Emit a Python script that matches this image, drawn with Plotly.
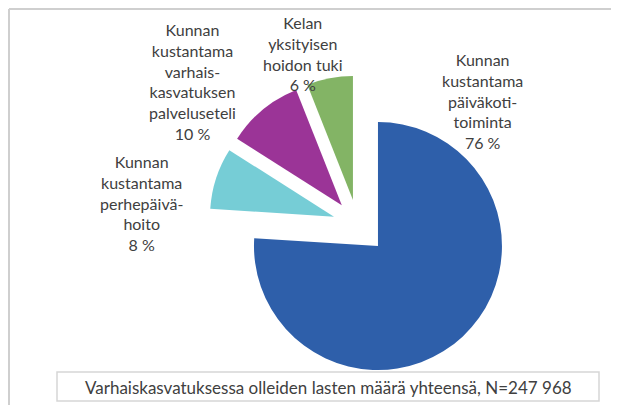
import plotly.graph_objects as go

# ---- data ----
categories = [
    "Kunnan<br>kustantama<br>päiväkoti-<br>toiminta",
    "Kunnan<br>kustantama<br>perhepäivä-<br>hoito",
    "Kunnan<br>kustantama<br>varhais-<br>kasvatuksen<br>palveluseteli",
    "Kelan<br>yksityisen<br>hoidon tuki",
]
shares = [76, 8, 10, 6]
colors = ["#2E5FAA", "#76CDD6", "#9B3497", "#83B465"]
pulls = [0.24, 0.2, 0.2, 0.2]
note = "Varhaiskasvatuksessa olleiden lasten määrä yhteensä, N=247\u00a0968"

# The page body has an 8px default margin, so the figure is laid out
# 8px smaller and every position is given relative to that offset.
OFF = 8
W, H = 619 - OFF, 405 - OFF

# label anchor positions (reference px from top-left), layout only
label_pos = [(482, 101), (141, 203), (192, 81), (303, 54)]

FONT = "Lato"
TXT = "#404040"


def px(x):
    return (x - OFF) / W


def py(y):
    return 1 - (y - OFF) / H


fig = go.Figure()
fig.add_trace(go.Pie(
    labels=[c.replace("<br>", " ") for c in categories],
    values=shares,
    sort=False,
    direction="clockwise",
    rotation=0,
    pull=pulls,
    marker=dict(colors=colors, line=dict(width=0)),
    textinfo="none",
    hoverinfo="label+percent",
    showlegend=False,
    domain=dict(x=[px(203.85), px(511.35)], y=[py(378.05), py(70.55)]),
))

annotations = []
for cat, val, (lx, ly) in zip(categories, shares, label_pos):
    annotations.append(dict(
        x=px(lx), y=py(ly), xref="paper", yref="paper",
        text=f"{cat}<br>{val} %", showarrow=False,
        xanchor="center", yanchor="middle", align="center",
        font=dict(family=FONT, size=16, color=TXT),
    ))
annotations.append(dict(
    x=px((57 + 599) / 2), y=py(387), xref="paper", yref="paper",
    text=note, showarrow=False, xanchor="center", yanchor="middle",
    font=dict(family=FONT, size=17, color=TXT),
))

shapes = [
    # outer frame (top and left edges visible)
    dict(type="line", xref="paper", yref="paper", x0=px(9), x1=1.0, y0=py(9), y1=py(9),
         line=dict(color="#CFCFCF", width=2)),
    dict(type="line", xref="paper", yref="paper", x0=px(9), x1=px(9), y0=0, y1=py(9),
         line=dict(color="#CFCFCF", width=2)),
    # note box
    dict(type="rect", xref="paper", yref="paper", x0=px(57), x1=px(599), y0=py(401), y1=py(372),
         line=dict(color="#D6D6D6", width=1.5), fillcolor="white"),
]

fig.update_layout(
    width=W, height=H,
    margin=dict(l=0, r=0, t=0, b=0),
    paper_bgcolor="white", plot_bgcolor="white",
    annotations=annotations, shapes=shapes,
)

fig.write_html("out.html")
